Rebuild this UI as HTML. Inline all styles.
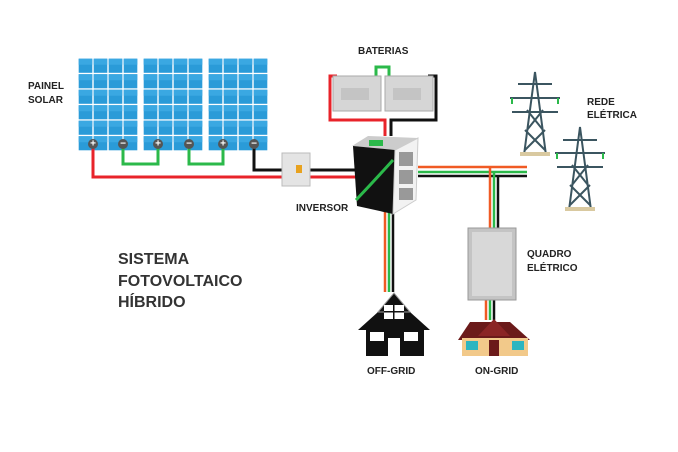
<!DOCTYPE html>
<html><head><style>
html,body{margin:0;padding:0;background:#fff;}
svg{display:block;font-family:"Liberation Sans",Arial,sans-serif;}
</style></head><body>
<svg width="678" height="452" viewBox="0 0 678 452" xmlns="http://www.w3.org/2000/svg">
<defs>
<pattern id="c1" x="78" y="58" width="15" height="15.5" patternUnits="userSpaceOnUse">
<rect x="0" y="0" width="15" height="15.5" fill="#fff"/>
<rect x="0.7" y="0.7" width="13.6" height="14.1" fill="#2a9bd8"/>
<rect x="0.7" y="0.7" width="13.6" height="6" fill="#3aa8e2"/>
</pattern>
<pattern id="c2" x="143" y="58" width="15" height="15.5" patternUnits="userSpaceOnUse">
<rect x="0" y="0" width="15" height="15.5" fill="#fff"/>
<rect x="0.7" y="0.7" width="13.6" height="14.1" fill="#2a9bd8"/>
<rect x="0.7" y="0.7" width="13.6" height="6" fill="#3aa8e2"/>
</pattern>
<pattern id="c3" x="208" y="58" width="15" height="15.5" patternUnits="userSpaceOnUse">
<rect x="0" y="0" width="15" height="15.5" fill="#fff"/>
<rect x="0.7" y="0.7" width="13.6" height="14.1" fill="#2a9bd8"/>
<rect x="0.7" y="0.7" width="13.6" height="6" fill="#3aa8e2"/>
</pattern>
</defs>
<!-- panels -->
<rect x="78" y="58" width="60" height="93" fill="url(#c1)"/>
<rect x="143" y="58" width="60" height="93" fill="url(#c2)"/>
<rect x="208" y="58" width="60" height="93" fill="url(#c3)"/>
<!-- panel wires -->
<polyline points="93,144 93,177 356,177" fill="none" stroke="#e8232a" stroke-width="3"/>
<polyline points="123,144 123,164 158,164 158,144" fill="none" stroke="#2bb94a" stroke-width="3"/>
<polyline points="189,144 189,164 223,164 223,144" fill="none" stroke="#2bb94a" stroke-width="3"/>
<polyline points="254,144 254,170 284,170" fill="none" stroke="#111" stroke-width="3"/>
<line x1="308" y1="170" x2="356" y2="170" stroke="#111" stroke-width="3"/>
<g font-size="10" font-weight="bold" text-anchor="middle" dominant-baseline="central" fill="#fff">
<circle cx="93" cy="144" r="5" fill="#555"/><text x="93" y="144">+</text>
<circle cx="123" cy="144" r="5" fill="#555"/><text x="123" y="144">−</text>
<circle cx="158" cy="144" r="5" fill="#555"/><text x="158" y="144">+</text>
<circle cx="189" cy="144" r="5" fill="#555"/><text x="189" y="144">−</text>
<circle cx="223" cy="144" r="5" fill="#555"/><text x="223" y="144">+</text>
<circle cx="254" cy="144" r="5" fill="#555"/><text x="254" y="144">−</text>
</g>
<!-- junction box -->
<rect x="282" y="153" width="28" height="33" fill="#e4e4e4" stroke="#bbb"/>
<rect x="296" y="165" width="6" height="8" fill="#e8a21f"/>
<!-- battery wires -->
<polyline points="337,76 330,76 330,120 385,120 385,136" fill="none" stroke="#e8232a" stroke-width="3"/>
<polyline points="428,76 436,76 436,120 391,120 391,136" fill="none" stroke="#111" stroke-width="3"/>
<polyline points="376,76 376,67 389,67 389,76" fill="none" stroke="#2bb94a" stroke-width="3"/>
<!-- batteries -->
<rect x="333" y="76" width="48" height="35" fill="#d6d6d6" stroke="#aaa"/>
<rect x="385" y="76" width="48" height="35" fill="#d6d6d6" stroke="#aaa"/>
<rect x="341" y="88" width="28" height="12" fill="#c4c4c4"/>
<rect x="393" y="88" width="28" height="12" fill="#c4c4c4"/>
<!-- AC wires -->
<line x1="418" y1="167" x2="527" y2="167" stroke="#f05a24" stroke-width="2.5"/>
<line x1="418" y1="172" x2="527" y2="172" stroke="#2bb94a" stroke-width="2.5"/>
<line x1="418" y1="176" x2="527" y2="176" stroke="#111" stroke-width="2.5"/>
<line x1="490" y1="167" x2="490" y2="230" stroke="#f05a24" stroke-width="2.5"/>
<line x1="494" y1="172" x2="494" y2="230" stroke="#2bb94a" stroke-width="2.5"/>
<line x1="498" y1="176" x2="498" y2="230" stroke="#111" stroke-width="2.5"/>
<line x1="486" y1="298" x2="486" y2="320" stroke="#f05a24" stroke-width="2.5"/>
<line x1="490" y1="298" x2="490" y2="320" stroke="#2bb94a" stroke-width="2.5"/>
<line x1="494" y1="298" x2="494" y2="320" stroke="#111" stroke-width="2.5"/>
<line x1="385" y1="212" x2="385" y2="292" stroke="#f05a24" stroke-width="2.5"/>
<line x1="389" y1="212" x2="389" y2="292" stroke="#2bb94a" stroke-width="2.5"/>
<line x1="393" y1="212" x2="393" y2="292" stroke="#111" stroke-width="2.5"/>
<!-- inverter -->
<polygon points="352,146 368,136 418,138 395,150" fill="#ccc"/>
<polygon points="353,146 395,150 393,214 357,206" fill="#111"/>
<polygon points="395,150 418,138 416,200 393,214" fill="#f2f2f2" stroke="#ccc"/>
<rect x="399" y="152" width="14" height="14" fill="#999"/>
<rect x="399" y="170" width="14" height="14" fill="#999"/>
<rect x="399" y="188" width="14" height="12" fill="#999"/>
<rect x="369" y="140" width="14" height="6" fill="#2bb94a"/>
<path d="M356,200 Q375,180 393,160" fill="none" stroke="#2bb94a" stroke-width="3"/>
<!-- quadro -->
<rect x="468" y="228" width="48" height="72" fill="#c4c4c4" stroke="#999"/>
<rect x="472" y="232" width="40" height="64" fill="#d8d8d8"/>
<!-- towers -->
<g stroke="#3b5560" stroke-width="2" fill="none">
<polyline points="524,155 535,72 546,155"/>
<line x1="510" y1="98" x2="560" y2="98"/><line x1="512" y1="112" x2="558" y2="112"/><line x1="518" y1="84" x2="552" y2="84"/>
<path d="M527,130 L543,110 M543,130 L527,110 M525,150 L545,130 M545,150 L525,130"/>
<polyline points="569,210 580,127 591,210"/>
<line x1="555" y1="153" x2="605" y2="153"/><line x1="557" y1="167" x2="603" y2="167"/><line x1="563" y1="140" x2="597" y2="140"/>
<path d="M572,185 L588,165 M588,185 L572,165 M570,205 L590,185 M590,205 L570,185"/>
</g>
<g stroke="#2bb94a" stroke-width="2">
<line x1="512" y1="98" x2="512" y2="104"/><line x1="558" y1="98" x2="558" y2="104"/>
<line x1="557" y1="153" x2="557" y2="159"/><line x1="603" y1="153" x2="603" y2="159"/>
</g>
<rect x="520" y="152" width="30" height="4" fill="#d9c9a0"/>
<rect x="565" y="207" width="30" height="4" fill="#d9c9a0"/>
<!-- off-grid house -->
<polygon points="358,330 378,312 410,312 430,330" fill="#111"/>
<polygon points="378,312 394,293 410,312" fill="#111" stroke="#999"/>
<rect x="366" y="328" width="58" height="28" fill="#111"/>
<rect x="384" y="305" width="20" height="14" fill="#fff"/><rect x="384" y="311" width="20" height="1.5" fill="#111"/><rect x="393" y="305" width="1.5" height="14" fill="#111"/>
<rect x="370" y="332" width="14" height="9" fill="#fff"/><rect x="404" y="332" width="14" height="9" fill="#fff"/>
<rect x="388" y="338" width="12" height="18" fill="#fff"/>
<!-- on-grid house -->
<polygon points="458,340 470,322 510,322 530,340" fill="#6b1a1a"/>
<polygon points="478,336 494,319 510,336" fill="#8b2525"/>
<rect x="462" y="338" width="66" height="18" fill="#f2c98a"/>
<rect x="466" y="341" width="12" height="9" fill="#2db5c0"/><rect x="512" y="341" width="12" height="9" fill="#2db5c0"/>
<rect x="489" y="340" width="10" height="16" fill="#6b1a1a"/>
<!-- text -->
<g font-weight="bold" fill="#222" font-size="10">
<text x="28" y="89">PAINEL</text><text x="28" y="103">SOLAR</text>
<text x="358" y="54">BATERIAS</text>
<text x="587" y="105">REDE</text><text x="587" y="118">ELÉTRICA</text>
<text x="296" y="211">INVERSOR</text>
<text x="527" y="257">QUADRO</text><text x="527" y="271">ELÉTRICO</text>
<text x="367" y="374">OFF-GRID</text>
<text x="475" y="374">ON-GRID</text>
</g>
<g font-weight="bold" fill="#333" font-size="16">
<text x="118" y="264">SISTEMA</text><text x="118" y="286">FOTOVOLTAICO</text><text x="118" y="307">HÍBRIDO</text>
</g>
</svg>
</body></html>
